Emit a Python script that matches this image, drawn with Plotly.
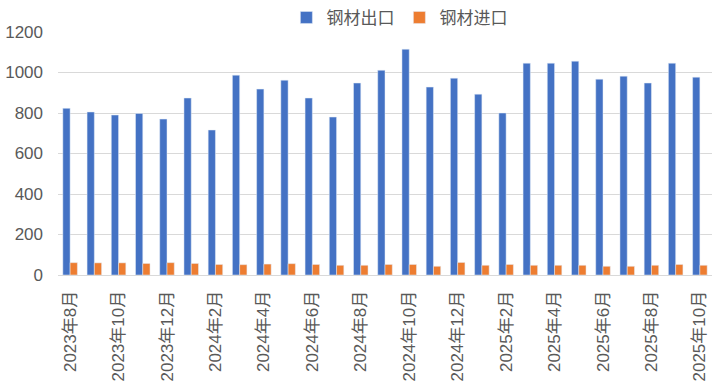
import plotly.graph_objects as go

months = ["2023年8月", "2023年9月", "2023年10月", "2023年11月", "2023年12月",
          "2024年1月", "2024年2月", "2024年3月", "2024年4月", "2024年5月",
          "2024年6月", "2024年7月", "2024年8月", "2024年9月", "2024年10月",
          "2024年11月", "2024年12月", "2025年1月", "2025年2月", "2025年3月",
          "2025年4月", "2025年5月", "2025年6月", "2025年7月", "2025年8月",
          "2025年9月", "2025年10月"]
exports = [823, 805, 790, 798, 770, 874, 716, 987, 918, 962, 874, 780, 948,
           1011, 1115, 928, 972, 893, 800, 1046, 1046, 1056, 967, 982, 948, 1046, 977]
imports = [61, 60, 60, 57, 61, 57, 52, 51, 54, 56, 52, 48, 48, 52, 52, 43, 62,
           48, 52, 48, 48, 48, 43, 43, 48, 52, 48]
tick_labels = months[::2]
y_ticks = [0, 200, 400, 600, 800, 1000, 1200]

font_family = "Liberation Sans, Noto Sans CJK SC, sans-serif"
fig = go.Figure()
fig.add_trace(go.Bar(x=months, y=exports, name="钢材出口", marker_color="#4472C4"))
fig.add_trace(go.Bar(x=months, y=imports, name="钢材进口", marker_color="#ED7D31"))

fig.update_layout(
    width=720, height=387,
    margin=dict(l=58, r=8, t=32, b=112, autoexpand=False),
    paper_bgcolor="white", plot_bgcolor="white",
    barmode="group", bargap=0.4, bargroupgap=0,
    font=dict(family=font_family, color="#595959", size=17),
    legend=dict(orientation="h", x=0.522, xanchor="center", y=1.058, yanchor="middle",
                font=dict(size=17, color="#595959", family="Noto Sans CJK SC, sans-serif"),
                itemwidth=30, traceorder="normal"),
    showlegend=True,
)
fig.update_xaxes(
    type="category", categoryorder="array", categoryarray=months,
    tickmode="array", tickvals=tick_labels, ticktext=tick_labels,
    tickangle=-90, tickfont=dict(size=17, color="#595959"),
    showline=True, linecolor="#D9D9D9", linewidth=1,
    showgrid=False, ticks="", range=[-0.5, 26.5], automargin=False,
    ticklabelstandoff=8,
)
fig.update_yaxes(
    range=[0, 1200], tickvals=y_ticks, showgrid=True, gridcolor="#D9D9D9",
    gridwidth=1, zeroline=False, tickfont=dict(size=17, color="#595959"),
    ticks="", ticklabelstandoff=14, automargin=False,
)
fig.write_html("out.html", config={"displayModeBar": False},
               post_script="document.body.style.margin='0';")
